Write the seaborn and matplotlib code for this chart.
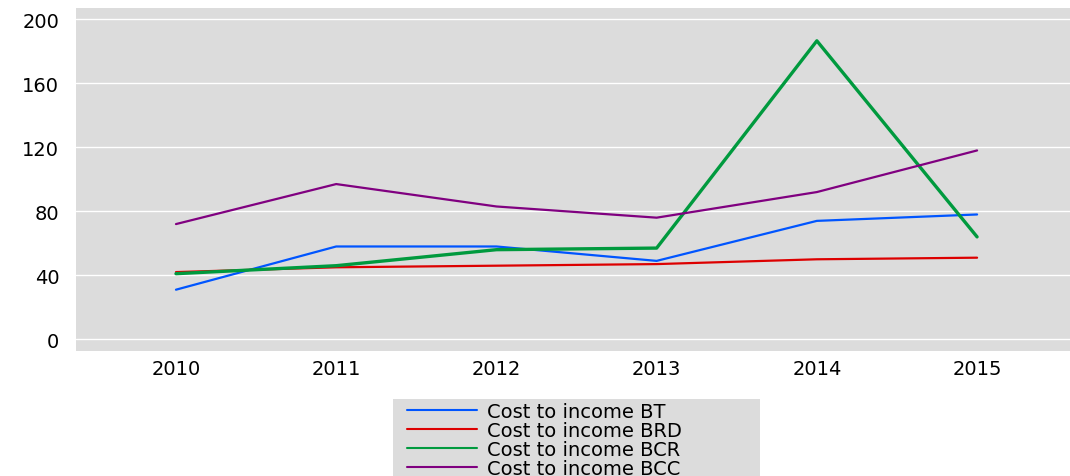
import numpy as np
import matplotlib
matplotlib.use("Agg")
import matplotlib.pyplot as plt
from matplotlib.ticker import FixedLocator
from matplotlib.patches import Rectangle
import seaborn as sns
import pandas as pd

years = ["2010", "2011", "2012", "2013", "2014", "2015"]
bt = [31, 58, 58, 49, 74, 78]
brd = [42, 45, 46, 47, 50, 51]
bcr = [41, 46, 56, 57, 186.5, 64]
bcc = [72, 97, 83, 76, 92, 118]

names = ["Cost to income BT", "Cost to income BRD", "Cost to income BCR", "Cost to income BCC"]
colors = ["#0055ff", "#dd0000", "#009a3e", "#800080"]

rows = []
for name, vals in zip(names, [bt, brd, bcr, bcc]):
    for i, v in enumerate(vals):
        rows.append({"pos": i, "value": v, "series": name})
df = pd.DataFrame(rows)

sns.set_style("white", {"axes.facecolor": "#dcdcdc", "text.color": "black",
                        "xtick.color": "black", "ytick.color": "black"})
plt.rcParams["font.family"] = ["DejaVu Sans"]

fig = plt.figure(figsize=(10.70, 4.77), dpi=100)
ax = fig.add_axes([76 / 1070, 1 - 352 / 477, 1 - 76 / 1070, (352 - 9) / 477])

sns.lineplot(data=df, x="pos", y="value", hue="series", palette=colors,
             linewidth=1.6, ax=ax, legend=False)
# the BCR line is drawn a little thicker
ax.lines[2].set_linewidth(2.4)

ax.set_xlim(-0.624, 5.58)
ax.set_ylim(-7.3, 207)
ax.set_yticks([0, 40, 80, 120, 160, 200])
ax.set_xticks(range(len(years)))
ax.set_xticklabels(years)
ax.xaxis.set_minor_locator(FixedLocator(np.arange(-0.5, 6, 1)))
ax.tick_params(axis="x", which="major", length=0, pad=6, labelsize=14, labelcolor="black")
ax.tick_params(axis="x", which="minor", length=4.5, width=1, color="#999999")
ax.tick_params(axis="y", length=7, width=1, color="#bbbbbb", pad=5, labelsize=14,
               labelcolor="black")
ax.grid(axis="y", color="white", linewidth=1)
ax.set_axisbelow(True)
ax.set_xlabel("")
ax.set_ylabel("")
for s in ax.spines.values():
    s.set_visible(False)

# legend background box, it runs off the bottom of the figure
fig.patches.append(Rectangle((393 / 1070, 0), (760 - 393) / 1070, 1 - 400 / 477,
                             transform=fig.transFigure, facecolor="#dcdcdc",
                             edgecolor="none", zorder=0))

handles = [plt.Line2D([], [], color=c, linewidth=1.5) for c in colors]
leg = fig.legend(handles, names, loc="upper left",
                 bbox_to_anchor=(407 / 1070, 1 - 403 / 477),
                 fontsize=14, frameon=False,
                 handlelength=3.6, handletextpad=0.5, labelspacing=0.0,
                 borderaxespad=0, borderpad=0)
for t in leg.get_texts():
    t.set_color("black")

fig.savefig("out.png", dpi=100)
